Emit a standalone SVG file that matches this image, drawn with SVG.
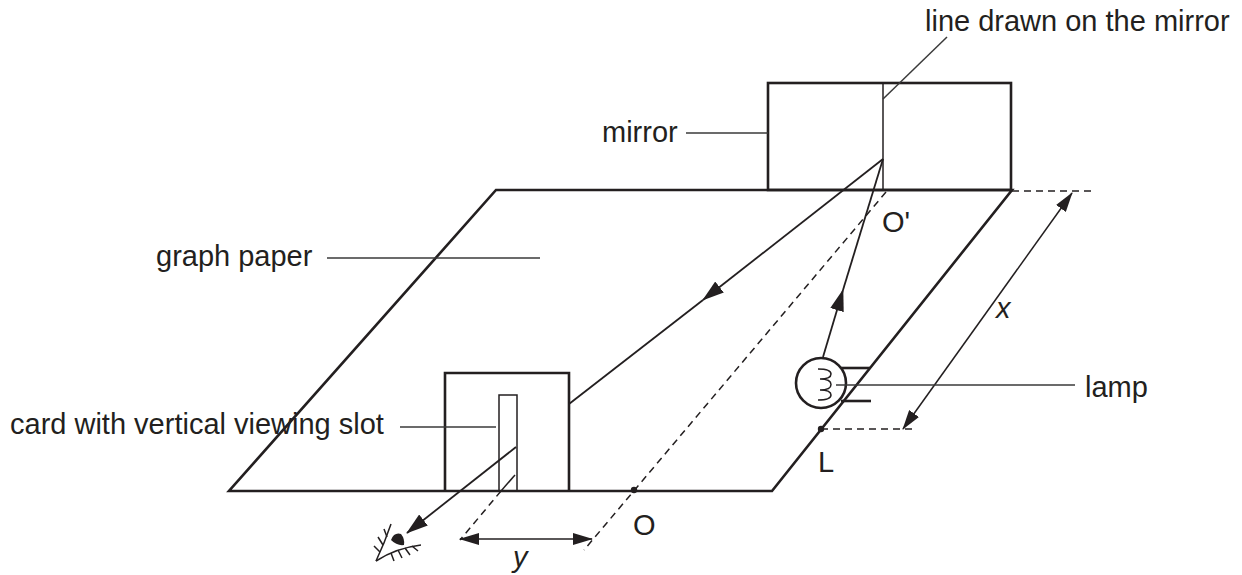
<svg xmlns="http://www.w3.org/2000/svg" width="1242" height="575" viewBox="0 0 1242 575">
<style>
.thick{fill:none;stroke:#231f20;stroke-width:2.6;stroke-linejoin:miter}
.thin{fill:none;stroke:#231f20;stroke-width:1.5}
.ray{fill:none;stroke:#231f20;stroke-width:1.8}
.lead{fill:none;stroke:#3a3a3a;stroke-width:1.5}
.dash{fill:none;stroke:#231f20;stroke-width:1.5;stroke-dasharray:7,5}
.lbl{font-family:"Liberation Sans",Arial,sans-serif;font-size:29px;fill:#231f20}
.it{font-style:italic}
.dot{fill:#231f20}
</style>
<defs>
<marker id="ah" markerUnits="userSpaceOnUse" markerWidth="22" markerHeight="14" refX="21" refY="7" orient="auto-start-reverse" viewBox="0 0 22 14">
<path d="M0,0 L22,7 L0,14 z" fill="#231f20"/>
</marker>
<marker id="ahs" markerUnits="userSpaceOnUse" markerWidth="20" markerHeight="12" refX="19" refY="6" orient="auto-start-reverse" viewBox="0 0 20 12">
<path d="M0,0 L20,6 L0,12 z" fill="#231f20"/>
</marker>
</defs>
<rect width="1242" height="575" fill="#ffffff"/>

<g id="paper">
<polygon class="thick" points="496,190 1012,190 772,491 229,491"/>
</g>

<g id="mirror">
<rect class="thick" x="768" y="83" width="243" height="107"/>
<line class="thin" x1="883" y1="83" x2="883" y2="190"/>
</g>

<g id="card">
<polyline class="thick" points="445,491 445,373 569,373 569,491"/>
<polyline class="thin" points="499,491 499,395 517,395 517,491"/>
</g>

<g id="lamp">
<circle class="thick" cx="821" cy="383" r="25"/>
<path class="thin" stroke-width="2.4" d="M818,369 Q831,369 831,374 Q831,379 820,379 Q831,379 831,384.5 Q831,390 820,390 Q831,390 831,395 Q831,400 818,400"/>
<line class="thick" x1="841" y1="368" x2="870" y2="368"/>
<line class="thick" x1="841" y1="401" x2="871" y2="401"/>
</g>

<g id="eye">
<path class="thin" stroke-width="2" d="M376,561 Q396,548 421,545"/>
<path class="thin" stroke-width="2" d="M376,561 Q385,542 391,524"/>
<path class="thin" stroke-width="1.6" d="M380,552 L374,546 M383,545 L378,537 M387,537 L384,529 M391,553 L394,561 M398,550 L402,558 M405,548 L410,555 M412,546 L418,551"/>
<path class="dot" d="M391,540 Q394,532 401,534 Q405,539 404,545 Q397,546 391,540 z"/>
</g>

<g id="points">
<circle class="dot" cx="634" cy="490" r="3.2"/>
<circle class="dot" cx="821" cy="429" r="3.2"/>
</g>

<g id="connectors">
<line class="ray" x1="823" y1="357" x2="843" y2="290" marker-end="url(#ah)"/>
<line class="ray" x1="843" y1="290" x2="883" y2="159"/>
<line class="ray" x1="883" y1="159" x2="703" y2="300" marker-end="url(#ah)"/>
<line class="ray" x1="703" y1="300" x2="569" y2="404"/>
<line class="ray" x1="516" y1="447" x2="407" y2="533" marker-end="url(#ah)"/>
<line class="dash" x1="886" y1="192" x2="584" y2="550"/>
<line class="thin" x1="515" y1="475" x2="501" y2="491"/>
<line class="dash" x1="501" y1="491" x2="460" y2="540"/>
<line class="dash" x1="1012" y1="191" x2="1093" y2="191"/>
<line class="dash" x1="821" y1="429" x2="915" y2="429"/>
<line class="thin" x1="1072" y1="193" x2="903" y2="429" marker-start="url(#ahs)" marker-end="url(#ahs)"/>
<line class="thin" x1="460" y1="539" x2="592" y2="539" marker-start="url(#ahs)" marker-end="url(#ahs)"/>
<line class="lead" x1="883" y1="99" x2="947" y2="37"/>
<line class="lead" x1="686" y1="133" x2="768" y2="133"/>
<line class="lead" x1="327" y1="258" x2="540" y2="258"/>
<line class="lead" x1="400" y1="427" x2="496" y2="427"/>
<line class="lead" x1="836" y1="385" x2="1075" y2="385"/>
</g>

<g id="labels">
<text class="lbl" x="925" y="31">line drawn on the mirror</text>
<text class="lbl" x="602" y="142">mirror</text>
<text class="lbl" x="156" y="266">graph paper</text>
<text class="lbl" x="10" y="434">card with vertical viewing slot</text>
<text class="lbl" x="1085" y="397">lamp</text>
<text class="lbl" x="882" y="232">O'</text>
<text class="lbl" x="633" y="535">O</text>
<text class="lbl" x="818" y="472">L</text>
<text class="lbl it" x="513" y="567">y</text>
<text class="lbl it" x="996" y="318">x</text>
</g>
</svg>
